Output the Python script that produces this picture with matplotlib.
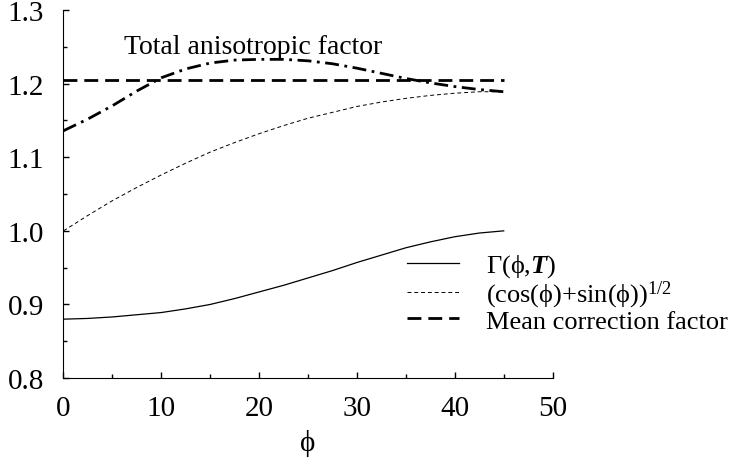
import matplotlib
matplotlib.use("Agg")
import matplotlib.pyplot as plt

plt.rcParams['font.family'] = ['Liberation Serif', 'DejaVu Serif']
plt.rcParams['mathtext.fontset'] = 'custom'
plt.rcParams['mathtext.rm'] = 'Liberation Serif'
plt.rcParams['mathtext.it'] = 'Liberation Serif:italic'
plt.rcParams['mathtext.bf'] = 'Liberation Serif:bold:italic'

phi = [0, 2.5, 5, 7.5, 10, 12.5, 15, 17.5, 20, 22.5,
       25, 27.5, 30, 32.5, 35, 37.5, 40, 42.5, 45]

gamma = [0.880, 0.881, 0.883, 0.886, 0.889, 0.894, 0.900, 0.908, 0.917, 0.926,
         0.936, 0.946, 0.957, 0.967, 0.977, 0.985, 0.992, 0.997, 1.000]

cos_sin = [1.000, 1.021, 1.041, 1.059, 1.076, 1.092, 1.107, 1.120, 1.132, 1.143,
           1.153, 1.161, 1.169, 1.175, 1.180, 1.184, 1.187, 1.189, 1.189]

total = [1.136, 1.152, 1.170, 1.190, 1.208, 1.220, 1.228, 1.232, 1.233, 1.233,
         1.231, 1.227, 1.221, 1.214, 1.207, 1.201, 1.196, 1.192, 1.189]

mean_x = [0, 45]
mean_y = [1.205, 1.205]

fs = 20
tfs = 21
lfs = 19

fig = plt.figure(figsize=(7.4, 4.6), dpi=100)
ax = fig.add_axes([0.0858, 0.176, 0.661, 0.8])

ax.plot(phi, gamma, color='black', lw=0.9, label=r'$\mathrm{\Gamma(ϕ{,}}\mathbf{T}\mathrm{)}$')
ax.plot(phi, cos_sin, color='black', lw=0.7, dashes=(4, 3),
        label=r'$\mathrm{(cos(ϕ){+}sin(ϕ))^{1/2}}$')
ax.plot(mean_x, mean_y, color='black', lw=2, dashes=(5, 2.5),
        label='Mean correction factor')
ax.plot(phi, total, color='black', lw=2, dashes=(5, 2, 1, 2))

ax.text(6.2, 1.251, 'Total anisotropic factor', fontsize=fs, va='center', ha='left')

ax.set_xlim(0, 50)
ax.set_ylim(0.8, 1.3)
ax.set_xticks([0, 10, 20, 30, 40, 50])
ax.set_xticks([5, 15, 25, 35, 45], minor=True)
ax.set_yticks([0.8, 0.9, 1.0, 1.1, 1.2, 1.3])
ax.set_yticks([0.85, 0.95, 1.05, 1.15, 1.25], minor=True)
ax.set_yticklabels(['0.8', '0.9', '1.0', '1.1', '1.2', '1.3'])

ax.spines['top'].set_visible(False)
ax.spines['right'].set_visible(False)
ax.tick_params(which='both', direction='in', labelsize=tfs, width=1)
ax.tick_params(which='major', length=4)
ax.tick_params(which='minor', length=3)
ax.tick_params(axis='y', pad=14)
ax.tick_params(axis='x', pad=12)

ax.set_xlabel('ϕ', fontsize=tfs, labelpad=6)

ax.legend(loc='upper left', bbox_to_anchor=(0.68, 0.37), frameon=False,
          fontsize=lfs, handlelength=2.0, handletextpad=1.0, labelspacing=-0.03,
          borderaxespad=0)

fig.savefig('out.png', dpi=100)
